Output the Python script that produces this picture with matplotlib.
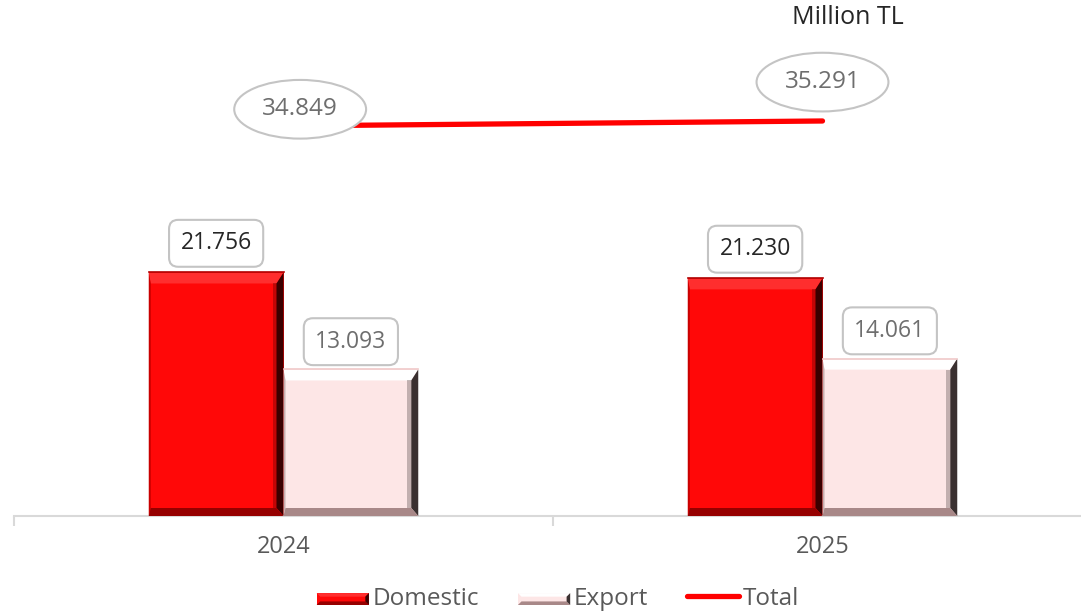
import numpy as np
import matplotlib.pyplot as plt
from matplotlib.patches import Polygon, Rectangle
from matplotlib.lines import Line2D

plt.rcParams['font.family'] = ['Open Sans', 'DejaVu Sans']

years = ['2024', '2025']
domestic = [21.756, 21.230]
export = [13.093, 14.061]
total = [34.849, 35.291]

# face, top band, left band, right band, bottom band, outline
red_style = ['#ff0808', '#ff2e2e', '#c80000', '#3a0000', '#960000', '#b00000']
pink_style = ['#fde6e6', '#ffffff', '#c8b0b0', '#3a3030', '#a88888', '#f0c8c8']

fig = plt.figure(figsize=(10.81, 6.15), dpi=100)
ax = fig.add_axes([14 / 1081, 99 / 615, 1078 / 1081, 516 / 615])
ax.set_xlim(-0.5, 1.5)
ax.set_ylim(0, 46.1)

x = np.arange(len(years))
w = 0.25
b1 = ax.bar(x - w / 2, domestic, w, color=red_style[0], zorder=2, clip_on=False)
b2 = ax.bar(x + w / 2, export, w, color=pink_style[0], zorder=2, clip_on=False)

# pixels per data unit
pos = ax.get_position()
ppx = pos.width * fig.get_figwidth() * fig.dpi / 2.0
ppy = pos.height * fig.get_figheight() * fig.dpi / 46.1


def bevel(rect, st, t=11, side=7, bot=8):
    x0, y0 = rect.get_xy()
    x1, y1 = x0 + rect.get_width(), y0 + rect.get_height()
    dyt = t / ppy
    dxs = side / ppx
    dyb = bot / ppy
    dl = 2 / ppx
    polys = [
        ([(x0, y1), (x1, y1), (x1 - dxs, y1 - dyt), (x0 + dl, y1 - dyt)], st[1]),
        ([(x0, y0), (x0, y1), (x0 + dl, y1 - dyt), (x0 + dl, y0 + dyb)], st[2]),
        ([(x1, y0), (x1, y1), (x1 - dxs, y1 - dyt), (x1 - dxs, y0 + dyb)], st[3]),
        ([(x0, y0), (x1, y0), (x1 - dxs, y0 + dyb), (x0 + dl, y0 + dyb)], st[4]),
    ]
    for p, c in polys:
        ax.add_patch(Polygon(p, closed=True, facecolor=c, edgecolor='none',
                             zorder=3, clip_on=False))
    # softer inner ramp on right side
    ax.add_patch(Polygon([(x1 - dxs, y0 + dyb), (x1 - dxs, y1 - dyt),
                          (x1 - dxs - 4 / ppx, y1 - dyt), (x1 - dxs - 4 / ppx, y0 + dyb)],
                         closed=True, facecolor=st[3], alpha=0.3, edgecolor='none',
                         zorder=3, clip_on=False))
    # thin outline on top
    ax.plot([x0, x1], [y1, y1], color=st[5], lw=1.2, zorder=3, clip_on=False)


for r in b1:
    bevel(r, red_style)
for r in b2:
    bevel(r, pink_style)

ax.plot(x, total, color='#ff0000', lw=3.8, solid_capstyle='round', zorder=4)

box = dict(boxstyle='round,pad=0.5,rounding_size=0.4', fc='white', ec='#c4c4c4', lw=1.5)
for r, v in zip(b1, domestic):
    ax.annotate(f'{v:.3f}', (r.get_x() + r.get_width() / 2, v), xytext=(0, 21),
                textcoords='offset points', ha='center', va='center', fontsize=16.5,
                color='#262626', bbox=box, zorder=5)
for r, v in zip(b2, export):
    ax.annotate(f'{v:.3f}', (r.get_x() + r.get_width() / 2, v), xytext=(0, 20),
                textcoords='offset points', ha='center', va='center', fontsize=16.5,
                color='#6e6e6e', bbox=box, zorder=5)

ell = dict(boxstyle='ellipse,pad=0.36', fc='white', ec='#c4c4c4', lw=1.5)
tot_offsets = [(12, 12), (0, 28)]
for xi, v, off in zip(x, total, tot_offsets):
    ax.annotate(f'{v:.3f}', (xi, v), xytext=off, textcoords='offset points',
                ha='center', va='center', fontsize=17.5, color='#6e6e6e',
                bbox=ell, zorder=5)

# axes styling
for s in ['top', 'right', 'left']:
    ax.spines[s].set_visible(False)
ax.spines['bottom'].set_color('#d9d9d9')
ax.spines['bottom'].set_linewidth(1.5)
ax.set_yticks([])
ax.set_xticks(x)
ax.set_xticklabels(years, fontsize=17, color='#595959')
ax.tick_params(axis='x', which='major', length=0, pad=14)
ax.set_xticks([-0.5, 0.5, 1.5], minor=True)
ax.tick_params(axis='x', which='minor', length=7, color='#d9d9d9', width=1.5)

fig.text(848 / 1081, 1 - 17 / 615, 'Million TL', ha='center', va='center',
         fontsize=18, color='#262626')


class BevelHandler:
    def __init__(self, st):
        self.st = st

    def legend_artist(self, legend, orig_handle, fontsize, handlebox):
        x0, y0 = handlebox.xdescent, handlebox.ydescent
        wd, ht = handlebox.width, handlebox.height
        ht = ht * 0.7
        st = self.st
        t = ht * 0.3
        tr = handlebox.get_transform()
        parts = [
            Rectangle((x0, y0), wd, ht, fc=st[0], ec='none', transform=tr),
            Polygon([(x0, y0 + ht), (x0 + wd, y0 + ht), (x0 + wd - t, y0 + ht - t), (x0 + t, y0 + ht - t)], fc=st[1], ec='none', transform=tr),
            Polygon([(x0, y0), (x0 + wd, y0), (x0 + wd - t, y0 + t), (x0 + t, y0 + t)], fc=st[4], ec='none', transform=tr),
            Polygon([(x0 + wd, y0), (x0 + wd, y0 + ht), (x0 + wd - t, y0 + ht - t), (x0 + wd - t, y0 + t)], fc=st[3], ec='none', transform=tr),
        ]
        for p in parts:
            handlebox.add_artist(p)
        return parts[0]


h1 = Rectangle((0, 0), 1, 1, fc=red_style[0])
h2 = Rectangle((0, 0), 1, 1, fc=pink_style[0])
h3 = Line2D([], [], color='#ff0000', lw=3.8, solid_capstyle='round')
fig.legend([h1, h2, h3], ['Domestic', 'Export', 'Total'], loc='center',
           bbox_to_anchor=(558 / 1081, 1 - 599 / 615), ncol=3, frameon=False,
           fontsize=17.5, labelcolor='#595959', handlelength=2.15, handletextpad=0.15,
           columnspacing=1.6, handler_map={h1: BevelHandler(red_style),
                                           h2: BevelHandler(pink_style)})

fig.savefig('out.png', dpi=100)
